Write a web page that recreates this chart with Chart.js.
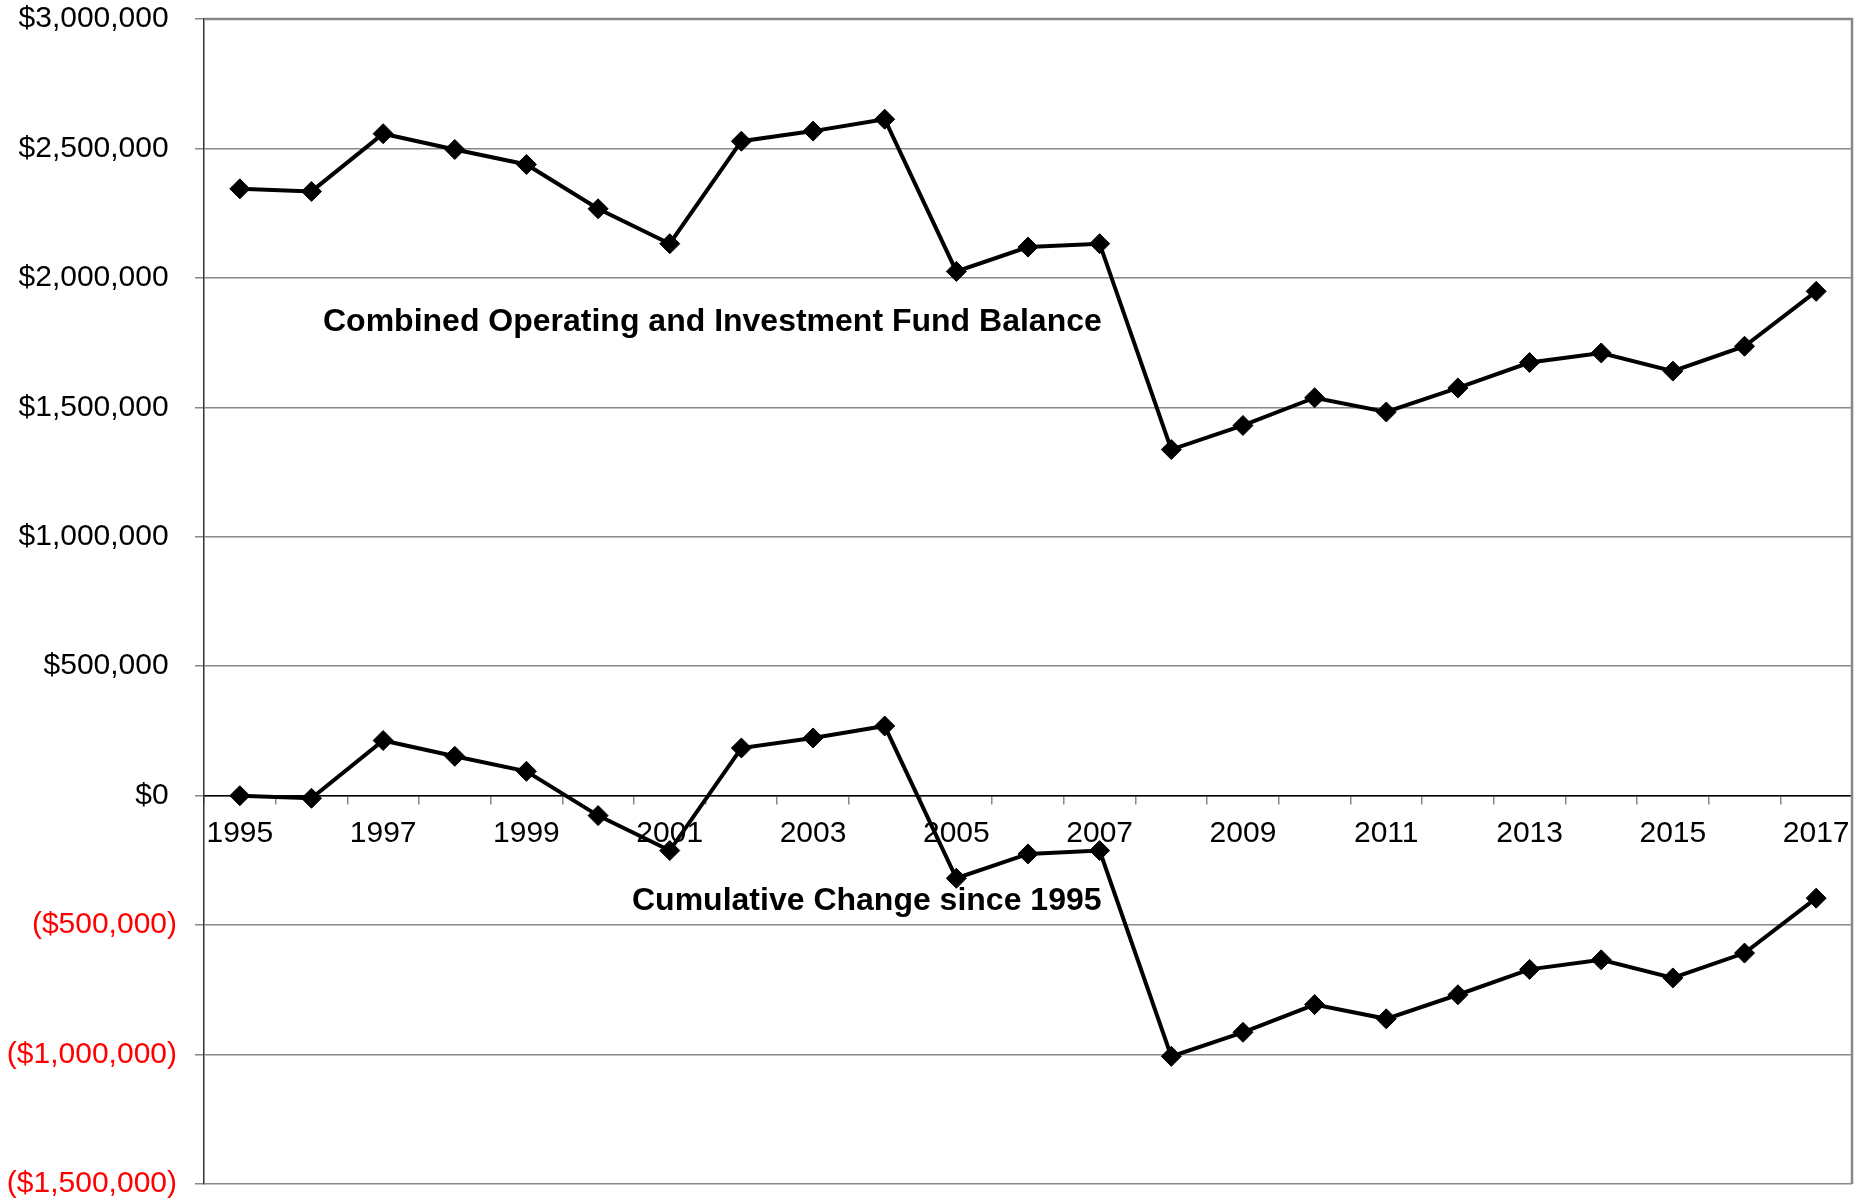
<!DOCTYPE html>
<html>
<head>
<meta charset="utf-8">
<script src="https://cdn.jsdelivr.net/npm/chart.js@4/dist/chart.umd.min.js"></script>
<style>
  html, body { margin: 0; padding: 0; background: #fff; }
  #wrap { width: 1870px; height: 1202px; position: relative; }
</style>
</head>
<body>
<div id="wrap"><canvas id="fundChart"></canvas></div>
<script>
// data
const years = ['1995', '1996', '1997', '1998', '1999', '2000', '2001', '2002', '2003', '2004', '2005', '2006',
    '2007', '2008', '2009', '2010', '2011', '2012', '2013', '2014', '2015', '2016', '2017'];

const fundBalance = [2344000, 2334000, 2557000, 2496000, 2438000, 2267000, 2132000, 2528000, 2567000, 2613000,
    2025000, 2119000, 2132000, 1337000, 1430000, 1537000, 1482000, 1575000, 1673000, 1710000, 1640000, 1736000, 1948000];

const cumulativeChange = [0, -10000, 213000, 152000, 94000, -77000, -212000, 184000, 223000, 269000,
    -319000, -225000, -212000, -1007000, -914000, -807000, -862000, -769000, -671000, -634000, -704000, -608000, -396000];

const yMin = -1500000;
const yMax = 3000000;
const yStep = 500000;

const annotations = [
    { text: 'Combined Operating and Investment Fund Balance', x: 323, y: 331 },
    { text: 'Cumulative Change since 1995', x: 632, y: 910 }
];

Chart.defaults.font.family = '"Liberation Sans", Arial, sans-serif';
Chart.defaults.color = '#000';

function money(v) {
    const s = '$' + Math.abs(v).toLocaleString('en-US');
    return v < 0 ? '(' + s + ')' : s + ' ';
}

// gray frame on top and right side of the plot
const framePlugin = {
    id: 'frame',
    beforeDatasetsDraw(chart) {
        const { ctx, chartArea: a } = chart;
        ctx.save();
        ctx.strokeStyle = '#888';
        ctx.lineWidth = 2.5;
        ctx.beginPath();
        ctx.moveTo(a.left, a.top);
        ctx.lineTo(a.right, a.top);
        ctx.lineTo(a.right, a.bottom);
        ctx.stroke();
        ctx.restore();
    }
};

// the two bold captions
const captionPlugin = {
    id: 'captions',
    afterDatasetsDraw(chart) {
        const ctx = chart.ctx;
        ctx.save();
        ctx.font = 'bold 32px "Liberation Sans", Arial, sans-serif';
        ctx.fillStyle = '#000';
        ctx.textAlign = 'left';
        ctx.textBaseline = 'alphabetic';
        annotations.forEach(a => ctx.fillText(a.text, a.x, a.y));
        ctx.restore();
    }
};

const lineStyle = {
    borderColor: '#000',
    borderWidth: 4,
    tension: 0,
    pointStyle: 'rectRot',
    pointRadius: 10,
    pointBackgroundColor: '#000',
    pointBorderColor: '#000',
    pointBorderWidth: 1,
    fill: false
};

new Chart(document.getElementById('fundChart'), {
    type: 'line',
    data: {
        labels: years,
        datasets: [
            Object.assign({ label: 'Combined Operating and Investment Fund Balance', data: fundBalance }, lineStyle),
            Object.assign({ label: 'Cumulative Change since 1995', data: cumulativeChange }, lineStyle)
        ]
    },
    options: {
        responsive: true,
        maintainAspectRatio: false,
        devicePixelRatio: 1,
        animation: false,
        layout: { padding: { top: 19, right: 18, bottom: 18, left: 0 } },
        plugins: {
            legend: { display: false },
            tooltip: { enabled: false }
        },
        scales: {
            x: {
                type: 'category',
                position: { y: 0 },
                offset: true,
                afterFit(scale) {
                    scale.paddingTop = 0;
                    scale.paddingBottom = 0;
                    scale.paddingLeft = 0;
                    scale.paddingRight = 0;
                },
                grid: {
                    offset: true,
                    drawOnChartArea: false,
                    drawTicks: true,
                    tickLength: 8,
                    color: '#888',
                    lineWidth: 1.5
                },
                border: { display: true, color: '#000', width: 1.5 },
                ticks: {
                    autoSkip: false,
                    maxRotation: 0,
                    padding: 12,
                    font: { size: 30 },
                    color: '#000',
                    callback: (val, i) => (i % 2 === 0 ? years[i] : '')
                }
            },
            y: {
                min: yMin,
                max: yMax,
                afterFit(scale) {
                    scale.width = 204;
                    scale.paddingTop = 0;
                    scale.paddingBottom = 0;
                },
                grid: {
                    color: '#888',
                    lineWidth: 1.5,
                    tickLength: 9
                },
                border: { display: true, color: '#333', width: 1.5 },
                ticks: {
                    stepSize: yStep,
                    padding: 18,
                    font: { size: 30 },
                    color: ctx => (ctx.tick && ctx.tick.value < 0 ? '#ff0000' : '#000'),
                    callback: v => money(v)
                }
            }
        }
    },
    plugins: [framePlugin, captionPlugin]
});
</script>
</body>
</html>
